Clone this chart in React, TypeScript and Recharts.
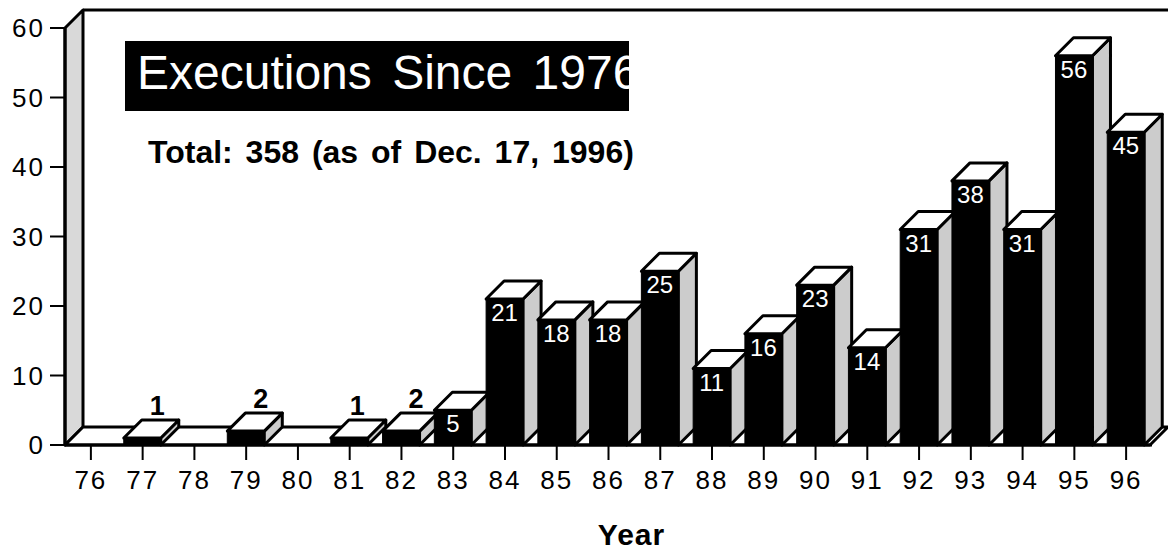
import React from "react";
import { Bar, BarChart, LabelList, ReferenceArea, XAxis, YAxis } from "recharts";

const years = ["76", "77", "78", "79", "80", "81", "82", "83", "84", "85", "86", "87", "88", "89", "90", "91", "92", "93", "94", "95", "96"];
const executions = [0, 1, 0, 2, 0, 1, 2, 5, 21, 18, 18, 25, 11, 16, 23, 14, 31, 38, 31, 56, 45];
const yTicks = [0, 10, 20, 30, 40, 50, 60];

const data = years.map((year, i) => ({ year, count: executions[i] }));

const font = "'Liberation Sans', Arial, sans-serif";
const depth = 18;
const edge = 3;

// left wall, back wall and floor of the fake 3d box
function Room({ x, y, width, height }: any) {
  const bottom = y + height;
  const right = x + width;
  return (
    <g stroke="#000" strokeWidth={edge} strokeLinejoin="round">
      <polygon points={`${x},${y} ${x + depth},${y - depth} ${x + depth},${bottom - depth} ${x},${bottom}`} fill="#d9d9d9" />
      <polygon points={`${x},${bottom} ${x + depth},${bottom - depth} ${right + depth - 2},${bottom - depth} ${right - 2},${bottom}`} fill="#fff" />
      <line x1={x + depth} y1={y - depth} x2={right + depth - 2} y2={y - depth} />
    </g>
  );
}

function Prism({ x, y, width, height }: any) {
  if (!height) return null;
  const bottom = y + height;
  const right = x + width;
  return (
    <g stroke="#000" strokeWidth={edge} strokeLinejoin="round">
      <polygon points={`${right},${y} ${right + depth},${y - depth} ${right + depth},${bottom - depth} ${right},${bottom}`} fill="#cccccc" />
      <polygon points={`${x},${y} ${x + depth},${y - depth} ${right + depth},${y - depth} ${right},${y}`} fill="#fff" />
      <rect x={x} y={y} width={width} height={height} fill="#000" strokeWidth={1} />
    </g>
  );
}

function CountLabel({ x, y, width, value, index }: any) {
  if (!value) return null;
  if (value > 2) {
    return (
      <text x={x + width / 2} y={y + 22} textAnchor="middle" fill="#fff" fontFamily={font} fontSize={24}>
        {value}
      </text>
    );
  }
  const shift = years[index] === "81" ? 8 : 15;
  return (
    <text x={x + width / 2 + shift} y={y - 23} textAnchor="middle" fill="#000" fontFamily={font} fontSize={27} fontWeight="bold">
      {value}
    </text>
  );
}

export default function App() {
  const tick = { fill: "#000", fontFamily: font, fontSize: 26, letterSpacing: 2 };
  return (
    <div style={{ position: "absolute", left: 0, top: 0, width: 1168, height: 550, background: "#fff", overflow: "hidden" }}>
      <BarChart width={1168} height={550} data={data} margin={{ top: 28, right: 16, bottom: 0, left: 0 }} barCategoryGap={0}>
        <XAxis
          dataKey="year"
          interval={0}
          height={105}
          tick={tick}
          tickSize={15}
          tickMargin={11}
          axisLine={{ stroke: "#000", strokeWidth: edge }}
          tickLine={{ stroke: "#000", strokeWidth: 2 }}
          label={{ value: "Year", position: "insideBottom", offset: 5, dx: 23, fill: "#000", fontFamily: font, fontSize: 30, fontWeight: "bold", letterSpacing: 1 }}
        />
        <YAxis
          domain={[0, 60]}
          ticks={yTicks}
          width={65}
          tick={tick}
          tickSize={15}
          tickMargin={5}
          axisLine={{ stroke: "#000", strokeWidth: edge }}
          tickLine={{ stroke: "#000", strokeWidth: 2 }}
        />
        <ReferenceArea y1={0} y2={60} ifOverflow="visible" shape={Room} />
        <Bar dataKey="count" barSize={37} isAnimationActive={false} shape={Prism}>
          <LabelList dataKey="count" content={CountLabel} />
        </Bar>
      </BarChart>
      <div style={{ position: "absolute", left: 125, top: 41, width: 504, height: 70, background: "#000", color: "#fff", overflow: "hidden", fontFamily: font, fontSize: 48, lineHeight: "64px", whiteSpace: "nowrap", wordSpacing: 7, paddingLeft: 12, boxSizing: "border-box" }}>
        Executions Since 1976
      </div>
      <div style={{ position: "absolute", left: 148, top: 134, fontFamily: font, fontSize: 32, fontWeight: "bold", lineHeight: "36px", whiteSpace: "nowrap", wordSpacing: 4 }}>
        Total: 358 (as of Dec. 17, 1996)
      </div>
    </div>
  );
}
